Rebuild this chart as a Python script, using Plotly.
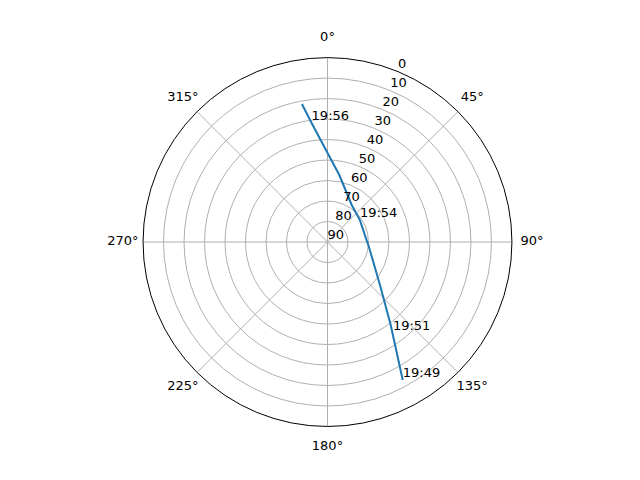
import plotly.graph_objects as go

# satellite pass: azimuth (deg, clockwise from north) and elevation (deg)
azimuth = [151.4, 142.7, 129.3, 94.2, 87.1, 55.9, 33.2, 10.0, 1.4, -7.6, -10.5]
elevation = [13.3, 39.1, 56.9, 70.0, 70.9, 70.9, 68.4, 56.8, 48.4, 31.4, 21.5]

label_times = ["19:49", "19:51", "19:54", "19:56"]
label_azimuth = [151.4, 144.3, 55.9, -7.6]
label_elevation = [13.3, 35.3, 70.9, 31.4]

angle_ticks = [0, 45, 90, 135, 180, 225, 270, 315]
elev_ticks = [0, 10, 20, 30, 40, 50, 60, 70, 80, 90]
elev_label_azimuth = 22.5

font = dict(family="DejaVu Sans", size=13, color="black")

# page body has an 8px margin, nudge the polar domains back
off_x = 8 / 640
off_y = 8 / 480

fig = go.Figure()
fig.add_trace(go.Scatterpolar(
    r=[90 - e for e in elevation],
    theta=azimuth,
    mode="lines",
    line=dict(color="#1f77b4", width=2),
    showlegend=False,
))
fig.add_trace(go.Scatterpolar(
    r=[90 - e for e in label_elevation],
    theta=label_azimuth,
    mode="text",
    text=label_times,
    textposition="top right",
    textfont=font,
    showlegend=False,
))
# radial tick labels, horizontal like matplotlib
fig.add_trace(go.Scatterpolar(
    r=[90 - e for e in elev_ticks],
    theta=[elev_label_azimuth] * len(elev_ticks),
    mode="text",
    text=[str(e) for e in elev_ticks],
    textposition="top right",
    textfont=font,
    showlegend=False,
    cliponaxis=False,
))
# angular tick labels on a slightly larger invisible polar, so they sit
# ~20px outside the circle like matplotlib
fig.add_trace(go.Scatterpolar(
    r=[99.8] * len(angle_ticks),
    theta=angle_ticks,
    mode="text",
    text=[f"{a}°" for a in angle_ticks],
    textposition="middle center",
    textfont=font,
    showlegend=False,
    cliponaxis=False,
    subplot="polar2",
))

angular_common = dict(rotation=90, direction="clockwise", ticks="")

fig.update_layout(
    width=640,
    height=480,
    margin=dict(l=0, r=0, t=0, b=0),
    paper_bgcolor="white",
    font=font,
    polar=dict(
        domain=dict(x=[0.2234 - off_x, 0.8 - off_x],
                    y=[0.1115 + off_y, 0.880 + off_y]),
        bgcolor="white",
        angularaxis=dict(
            **angular_common,
            tickmode="array",
            tickvals=angle_ticks,
            showticklabels=False,
            showline=True,
            linecolor="black",
            linewidth=1,
            gridcolor="#b0b0b0",
            gridwidth=0.8,
        ),
        radialaxis=dict(
            range=[0, 90],
            tickmode="array",
            tickvals=[90 - e for e in elev_ticks],
            showticklabels=False,
            showline=False,
            gridcolor="#b0b0b0",
            gridwidth=0.8,
            ticks="",
        ),
    ),
    polar2=dict(
        domain=dict(x=[(327.5 - 205) / 640 - off_x, (327.5 + 205) / 640 - off_x],
                    y=[(238 - 205) / 480 + off_y, (238 + 205) / 480 + off_y]),
        bgcolor="rgba(0,0,0,0)",
        angularaxis=dict(**angular_common, showticklabels=False,
                         showline=False, showgrid=False),
        radialaxis=dict(range=[0, 100], showticklabels=False,
                        showline=False, showgrid=False, ticks=""),
    ),
)

fig.write_html("out.html")
